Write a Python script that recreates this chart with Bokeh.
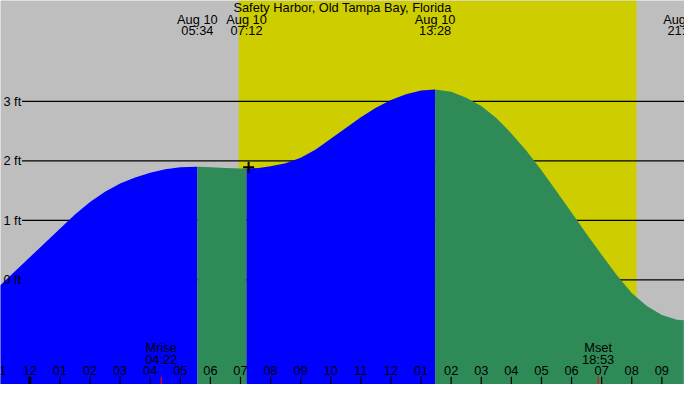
import numpy as np
from bokeh.core.properties import value
from bokeh.embed import file_html
from bokeh.models import Range1d
from bokeh.plotting import figure
from bokeh.resources import INLINE

TITLE = "Safety Harbor, Old Tampa Bay, Florida"
DATE = "Aug 10"

# hours after midnight Aug 10 / tide height (ft)
tide_hours = [-1.0, -0.5, 0.0, 0.5, 1.0, 1.5, 2.0, 2.5, 3.0, 3.5, 4.0, 4.5, 5.0,
              5.567, 6.0, 6.5, 7.0, 7.2, 7.6, 8.0, 8.5, 9.0, 9.5, 10.0, 10.5, 11.0,
              11.5, 12.0, 12.5, 13.0, 13.467, 14.0, 14.5, 15.0, 15.5, 16.0, 16.5,
              17.0, 17.5, 18.0, 18.5, 19.0, 19.5, 20.0, 20.5, 21.0, 21.5, 21.72, 22.0]
tide_ft = [-0.10, 0.14, 0.38, 0.62, 0.86, 1.10, 1.31, 1.48, 1.62, 1.72, 1.80, 1.86, 1.89,
           1.90, 1.89, 1.88, 1.87, 1.87, 1.88, 1.91, 1.96, 2.05, 2.19, 2.37, 2.55, 2.73,
           2.89, 3.02, 3.12, 3.18, 3.20, 3.16, 3.06, 2.92, 2.72, 2.46, 2.17,
           1.84, 1.49, 1.13, 0.77, 0.42, 0.08, -0.22, -0.44, -0.59, -0.67, -0.68, -0.68]

# high / low tides
ext_hours = [5.567, 7.2, 13.467, 21.72]
ext_times = ["05:34", "07:12", "13:28", "21:43"]

sunrise, sunset = 6.94, 20.16

moon_hours = [4.367, 18.883]
moon_names = ["Mrise", "Mset"]
moon_times = ["04:22", "18:53"]

hour_ticks = list(range(-1, 22))
hour_labels = ["11", "12", "01", "02", "03", "04", "05", "06", "07", "08", "09", "10",
               "11", "12", "01", "02", "03", "04", "05", "06", "07", "08", "09"]

ft_levels = [0, 1, 2, 3]
ft_labels = ["0 ft", "1 ft", "2 ft", "3 ft"]

mark_hour, mark_ft = 7.27, 1.89

# reference picture geometry: midnight at px 30, 30.8 px/hour, 0 ft at px 291, 62 px/ft
def hx(px):
    return (px - 30) / 30.8


def fy(py):
    return (291 - py) / 62


X0, X1 = hx(0), hx(700)
Y0, Y1 = fy(400), fy(0)

FONT = value("Liberation Sans")
FSIZE = value("12.8px")

p = figure(width=684, height=384, output_backend="svg", toolbar_location=None,
           x_range=Range1d(X0, X1), y_range=Range1d(Y0, Y1),
           x_axis_location=None, y_axis_location=None, min_border=0,
           background_fill_color="#bebebe", border_fill_color="#bebebe",
           outline_line_color=None)
p.grid.visible = False

# daylight
p.quad(left=[sunrise], right=[sunset], bottom=[Y0], top=[Y1],
       fill_color="#cdcd00", line_color=None)

# level lines
p.segment(x0=[hx(22)] * len(ft_levels), x1=[X1] * len(ft_levels),
          y0=ft_levels, y1=ft_levels, line_color="black", line_width=1.3)

# tide fill: blue while rising, green while falling
h = np.array(tide_hours)
lv = np.array(tide_ft)
bounds = [h[0]] + ext_hours + [h[-1]]
for a, b in zip(bounds[:-1], bounds[1:]):
    m = (h >= a - 1e-9) & (h <= b + 1e-9)
    rising = lv[m][-1] > lv[m][0]
    p.varea(x=h[m], y1=Y0, y2=lv[m],
            fill_color="#0000ff" if rising else "#2e8b57")

p.text(x=[hx(3)] * len(ft_levels), y=ft_levels, text=ft_labels,
       text_font=FONT, text_font_size=FSIZE, text_align="left",
       text_baseline="middle", text_color="black")

p.scatter(x=[mark_hour], y=[mark_ft], marker="cross", size=11,
          line_color="black", line_width=2)

# title and extreme labels
p.text(x=[(X0 + X1) / 2], y=[fy(7.5)], text=[TITLE], text_font=FONT,
       text_font_size=FSIZE, text_align="center", text_baseline="middle")
p.text(x=ext_hours, y=[fy(20)] * len(ext_hours), text=[DATE] * len(ext_hours),
       text_font=FONT, text_font_size=FSIZE, text_align="center", text_baseline="middle")
p.text(x=ext_hours, y=[fy(31.5)] * len(ext_hours), text=ext_times,
       text_font=FONT, text_font_size=FSIZE, text_align="center", text_baseline="middle")

# moon events
p.text(x=moon_hours, y=[fy(361.5)] * 2, text=moon_names, text_font=FONT,
       text_font_size=FSIZE, text_align="center", text_baseline="middle")
p.text(x=moon_hours, y=[fy(373.5)] * 2, text=moon_times, text_font=FONT,
       text_font_size=FSIZE, text_align="center", text_baseline="middle")

# hour axis
p.text(x=hour_ticks, y=[fy(385.5)] * len(hour_ticks), text=hour_labels,
       text_font=FONT, text_font_size=FSIZE, text_align="center", text_baseline="middle")
widths = [3 if t % 24 == 0 else 1.2 for t in hour_ticks]
p.segment(x0=hour_ticks, x1=hour_ticks, y0=[fy(392)] * len(hour_ticks),
          y1=[Y0] * len(hour_ticks), line_color="black", line_width=widths)
p.segment(x0=moon_hours, x1=moon_hours, y0=[fy(392)] * 2, y1=[Y0] * 2,
          line_color="red", line_width=1.2)

open("out.html", "w").write(file_html(p, INLINE))
